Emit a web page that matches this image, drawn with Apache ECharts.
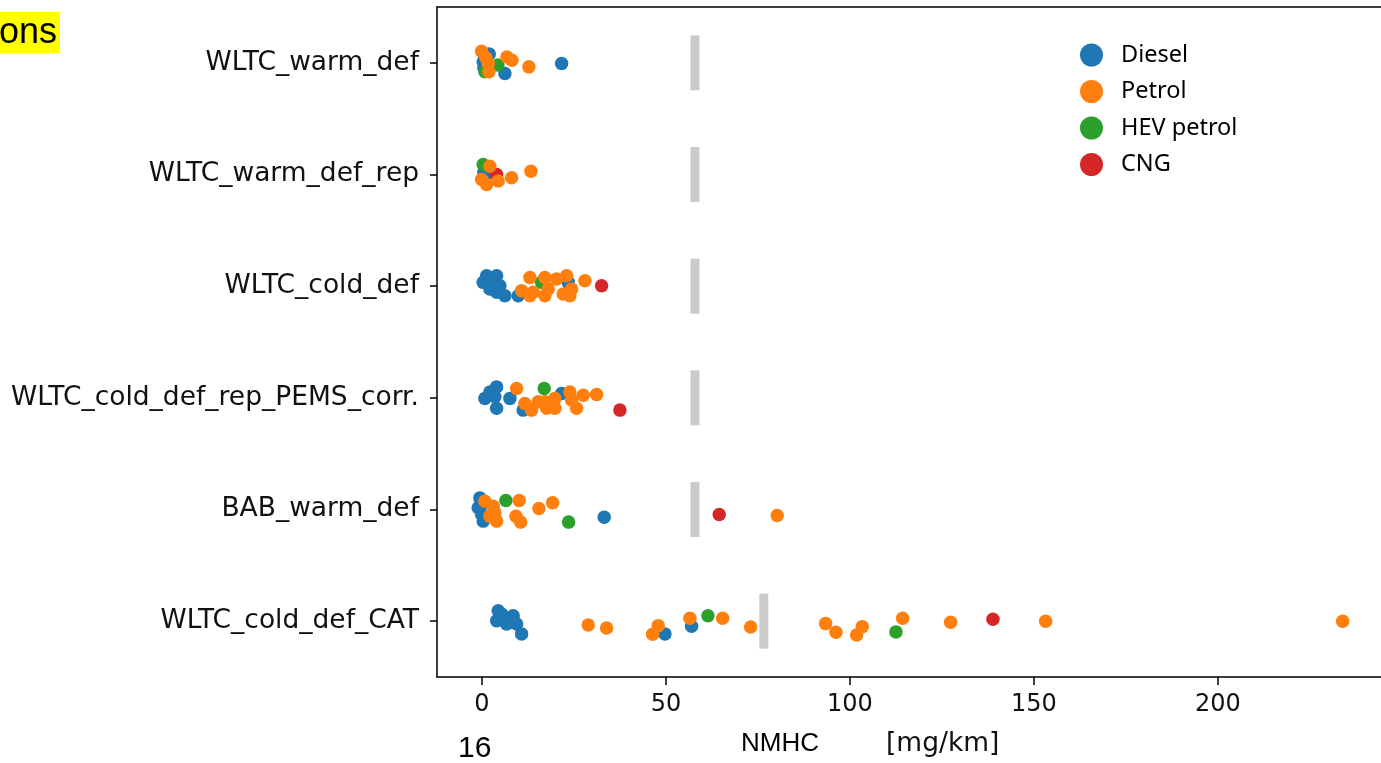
<!DOCTYPE html>
<html>
<head>
<meta charset="utf-8">
<script src="https://cdn.jsdelivr.net/npm/echarts@6/dist/echarts.min.js"></script>
<style>
html,body{margin:0;padding:0;background:#fff;}
#chart{width:1381px;height:763px;}
</style>
</head>
<body>
<div id="chart"></div>
<script>
// Test categories (top to bottom)
var categories = ['WLTC_warm_def','WLTC_warm_def_rep','WLTC_cold_def','WLTC_cold_def_rep_PEMS_corr.','BAB_warm_def','WLTC_cold_def_CAT'];
var xTickLabels = [0, 50, 100, 150, 200];
var fuelNames = ['Diesel','Petrol','HEV petrol','CNG'];

// Each point: [NMHC mg/km, category index, strip jitter (fraction of a band)]
var diesel = [
  [2.0,0,-0.08],[0.35,0,-0.01],[6.25,0,0.095],[21.66,0,0.006],[0.54,0,0.045],
  [1.28,1,0.0],[0.54,1,-0.02],
  [1.28,2,-0.094],[4.0,2,-0.094],[0.35,2,-0.034],[2.64,2,-0.034],[4.89,2,-0.004],[2.17,2,0.025],[4.0,2,0.055],[6.25,2,0.085],[9.86,2,0.085],[23.45,2,-0.034],
  [4.0,3,-0.098],[2.17,3,-0.053],[0.82,3,0.005],[3.53,3,-0.009],[7.61,3,0.005],[4.0,3,0.094],[11.22,3,0.11],[21.66,3,-0.039],
  [-0.54,4,-0.104],[-1.0,4,-0.015],[-0.08,4,0.045],[0.35,4,0.104],[0.82,4,-0.06],[33.23,4,0.069],
  [4.43,5,-0.094],[4.0,5,-0.004],[6.25,5,-0.035],[6.71,5,0.025],[8.5,5,-0.049],[9.43,5,0.025],[8.07,5,0.01],[10.79,5,0.114],[5.35,5,-0.064],[49.73,5,0.114],[56.98,5,0.045]
];
var petrol = [
  [-0.08,0,-0.104],[1.71,0,0.006],[1.9,0,0.08],[6.79,0,-0.053],[8.15,0,-0.024],[12.77,0,0.036],[1.09,0,-0.045],
  [2.17,1,-0.074],[-0.08,1,0.045],[1.28,1,0.089],[4.43,1,0.059],[8.07,1,0.03],[13.32,1,-0.029],
  [13.04,2,-0.078],[17.12,2,-0.078],[20.3,2,-0.064],[23.02,2,-0.094],[27.99,2,-0.049],[10.79,2,0.04],[13.94,2,0.055],[17.12,2,0.085],[18.02,2,0.025],[22.09,2,0.07],[24.38,2,0.025],[23.91,2,0.085],[13.04,2,0.085],
  [9.43,3,-0.084],[11.68,3,0.05],[13.5,3,0.11],[15.3,3,0.036],[17.58,3,0.094],[19.84,3,0.005],[19.84,3,0.094],[23.91,3,-0.053],[24.38,3,0.02],[25.73,3,0.094],[27.53,3,-0.024],[31.17,3,-0.03],[17.12,3,0.036],
  [0.82,4,-0.074],[3.07,4,-0.029],[3.53,4,0.029],[4.0,4,0.104],[2.17,4,0.06],[10.14,4,-0.08],[9.24,4,0.06],[10.52,4,0.113],[15.49,4,-0.009],[19.21,4,-0.06],[80.24,4,0.053],
  [28.89,5,0.034],[33.89,5,0.061],[46.39,5,0.117],[47.91,5,0.04],[56.52,5,-0.026],[65.41,5,-0.026],[73.02,5,0.052],[93.4,5,0.022],[96.2,5,0.099],[101.82,5,0.123],[103.34,5,0.049],[114.32,5,-0.026],[127.36,5,0.01],[153.18,5,0.001],[233.89,5,0.001]
];
var hevPetrol = [
  [4.35,0,0.02],[0.82,0,0.08],
  [0.35,1,-0.089],
  [16.22,2,-0.034],
  [16.93,3,-0.084],
  [6.52,4,-0.08],[23.56,4,0.113],
  [61.41,5,-0.049],[112.5,5,0.096]
];
var cng = [
  [4.0,1,0.0],
  [32.53,2,-0.004],
  [37.5,3,0.11],
  [64.48,4,0.045],
  [138.86,5,-0.017]
];
// Limit marker per category
var limits = [57.9, 57.9, 57.9, 57.9, 57.9, 76.6];

function toPts(arr){ return arr.map(function(p){ return [p[0], p[1] + p[2]]; }); }

var chart = echarts.init(document.getElementById('chart'), null, {renderer:'canvas'});
var colors = {'Diesel':'#1f77b4','Petrol':'#ff7f0e','HEV petrol':'#2ca02c','CNG':'#d62728'};

function scatter(name, arr){
  return {
    name: name, type: 'scatter', xAxisIndex: 0, yAxisIndex: 1,
    symbol: 'circle', symbolSize: 13.5,
    itemStyle: {color: colors[name], opacity: 1},
    emphasis: {disabled: true},
    data: toPts(arr)
  };
}

var option = {
  animation: false,
  backgroundColor: '#ffffff',
  grid: {left: 437, right: 0, top: 7, bottom: 86, containLabel: false},
  legend: {
    orient: 'vertical', left: 1075, top: 38,
    icon: 'circle', itemWidth: 23, itemHeight: 23, itemGap: 12.5,
    data: fuelNames,
    textStyle: {fontFamily: 'Noto Sans', fontSize: 23.5, color: '#000', padding: [0,0,0,13]}
  },
  xAxis: [{
    type: 'value', min: -12.2, max: 244.3, position: 'bottom',
    axisLine: {show: true, onZero: false, lineStyle: {color: '#000', width: 1.5}},
    axisTick: {show: true, length: 8, lineStyle: {color: '#000', width: 1.5}, customValues: xTickLabels},
    axisLabel: {customValues: xTickLabels, fontFamily: 'DejaVu Sans', fontSize: 24, color: '#111', margin: 16},
    splitLine: {show: false}
  },{
    type: 'value', min: -12.2, max: 244.3, position: 'top',
    axisLine: {show: true, onZero: false, lineStyle: {color: '#000', width: 1.5}},
    axisTick: {show: false}, axisLabel: {show: false}, splitLine: {show: false}
  }],
  yAxis: [{
    type: 'category', data: categories, inverse: true, boundaryGap: true, position: 'left',
    axisLine: {show: true, onZero: false, lineStyle: {color: '#000', width: 1.5}},
    axisTick: {show: true, alignWithLabel: true, length: 7, lineStyle: {color: '#000', width: 1.5}},
    axisLabel: {fontFamily: 'DejaVu Sans', fontSize: 26.5, color: '#111', margin: 18},
    splitLine: {show: false}
  },{
    type: 'value', min: -0.5, max: 5.5, inverse: true, show: false
  }],
  series: [
    {
      name: 'limit', type: 'scatter', xAxisIndex: 0, yAxisIndex: 0,
      symbol: 'rect', symbolSize: [9, 55], silent: true,
      itemStyle: {color: '#bebebe'},
      data: limits.map(function(v, i){ return [v, categories[i]]; })
    },
    scatter('Diesel', diesel),
    scatter('HEV petrol', hevPetrol),
    scatter('CNG', cng),
    scatter('Petrol', petrol)
  ],
  graphic: [
    {type: 'rect', left: 0, top: 12, shape: {width: 60, height: 41}, style: {fill: '#ffff00'}},
    {type: 'text', x: -1, y: 33, style: {x: 0, y: 0, text: 'ons', font: '36px "Liberation Sans"', fill: '#000', verticalAlign: 'middle'}},
    {type: 'text', left: 458, top: 734, style: {text: '16', font: '30px "Liberation Sans"', fill: '#000'}},
    {type: 'text', left: 741, top: 731, style: {text: 'NMHC', font: '26px "Liberation Sans"', fill: '#000'}},
    {type: 'text', left: 886, top: 731, style: {text: '[mg/km]', font: '26.5px "DejaVu Sans"', fill: '#111'}}
  ]
};
chart.setOption(option);
</script>
</body>
</html>
